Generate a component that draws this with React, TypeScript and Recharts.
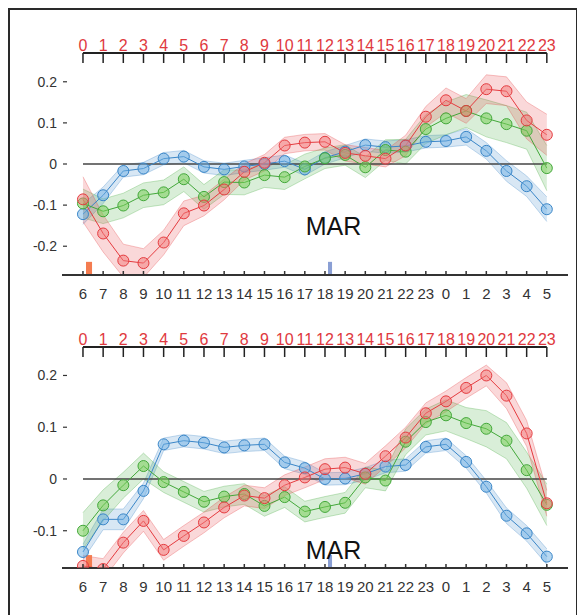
import React from "react";
import { ComposedChart, Line, Area, XAxis, YAxis, ReferenceLine, ReferenceArea, ReferenceDot } from "recharts";

const FONT = '"Liberation Sans", Arial, sans-serif';

const hoursTop = ["0", "1", "2", "3", "4", "5", "6", "7", "8", "9", "10", "11", "12", "13", "14", "15", "16", "17", "18", "19", "20", "21", "22", "23"];
const hoursBottom = ["6", "7", "8", "9", "10", "11", "12", "13", "14", "15", "16", "17", "18", "19", "20", "21", "22", "23", "0", "1", "2", "3", "4", "5"];

const topRed = [-0.086, -0.169, -0.235, -0.241, -0.191, -0.12, -0.101, -0.062, -0.019, 0.003, 0.045, 0.052, 0.054, 0.027, 0.02, 0.013, 0.045, 0.115, 0.155, 0.129, 0.182, 0.177, 0.106, 0.071];
const topGreen = [-0.096, -0.115, -0.101, -0.076, -0.069, -0.037, -0.08, -0.044, -0.045, -0.027, -0.032, -0.006, 0.014, 0.022, -0.008, 0.034, 0.03, 0.085, 0.111, 0.129, 0.111, 0.097, 0.081, -0.01];
const topBlue = [-0.122, -0.076, -0.017, -0.011, 0.013, 0.018, -0.007, -0.013, -0.006, 0.0, 0.007, -0.013, 0.015, 0.03, 0.046, 0.041, 0.044, 0.054, 0.056, 0.066, 0.032, -0.017, -0.054, -0.11];
const topRedErr = [0.055, 0.045, 0.04, 0.035, 0.03, 0.03, 0.025, 0.025, 0.02, 0.02, 0.02, 0.02, 0.02, 0.02, 0.02, 0.02, 0.025, 0.025, 0.03, 0.03, 0.035, 0.035, 0.045, 0.05];
const topGreenErr = [0.035, 0.03, 0.03, 0.03, 0.03, 0.03, 0.03, 0.03, 0.03, 0.03, 0.03, 0.03, 0.025, 0.025, 0.025, 0.025, 0.03, 0.035, 0.04, 0.04, 0.045, 0.045, 0.045, 0.055];
const topBlueErr = [0.025, 0.02, 0.015, 0.015, 0.015, 0.015, 0.015, 0.015, 0.015, 0.015, 0.015, 0.015, 0.015, 0.015, 0.015, 0.015, 0.015, 0.015, 0.015, 0.02, 0.02, 0.025, 0.025, 0.03];

const bottomRed = [-0.168, -0.174, -0.123, -0.081, -0.137, -0.11, -0.084, -0.055, -0.032, -0.037, -0.012, 0.003, 0.019, 0.022, 0.01, 0.044, 0.08, 0.127, 0.15, 0.176, 0.2, 0.161, 0.088, -0.047];
const bottomGreen = [-0.1, -0.051, -0.012, 0.025, -0.006, -0.025, -0.044, -0.034, -0.029, -0.052, -0.035, -0.063, -0.054, -0.046, 0.003, -0.003, 0.072, 0.11, 0.123, 0.108, 0.097, 0.074, 0.017, -0.05];
const bottomBlue = [-0.141, -0.078, -0.078, -0.023, 0.067, 0.074, 0.07, 0.061, 0.065, 0.067, 0.032, 0.021, 0.0, 0.001, 0.01, 0.024, 0.027, 0.062, 0.067, 0.033, -0.015, -0.071, -0.105, -0.15];
const bottomRedErr = [0.02, 0.02, 0.02, 0.02, 0.02, 0.02, 0.02, 0.02, 0.02, 0.02, 0.02, 0.02, 0.02, 0.02, 0.02, 0.02, 0.02, 0.02, 0.02, 0.02, 0.02, 0.025, 0.025, 0.025];
const bottomGreenErr = [0.035, 0.03, 0.025, 0.025, 0.02, 0.02, 0.02, 0.02, 0.02, 0.02, 0.02, 0.02, 0.02, 0.02, 0.02, 0.02, 0.025, 0.025, 0.03, 0.03, 0.035, 0.035, 0.035, 0.04];
const bottomBlueErr = [0.015, 0.02, 0.02, 0.015, 0.012, 0.012, 0.012, 0.012, 0.012, 0.012, 0.012, 0.012, 0.012, 0.012, 0.012, 0.012, 0.012, 0.012, 0.012, 0.012, 0.012, 0.015, 0.015, 0.015];

const tickIdx = hoursTop.map((_, i) => i);
const X_DOMAIN: [number, number] = [-1.04, 24.05];

const RED = "#e53b3f";
const GREEN = "#43a83a";
const BLUE = "#3a86c8";

function TopTick(props: any) {
  const { x, y, payload } = props;
  return (
    <g>
      <line x1={x} x2={x} y1={y} y2={y + 10} stroke="#222" strokeWidth={1.5} />
      <text x={x} y={y - 2} textAnchor="middle" fontSize={16} fill="#e0393e" fontFamily={FONT}>
        {hoursTop[payload.value]}
      </text>
    </g>
  );
}

function BottomTick(props: any) {
  const { x, y, payload } = props;
  return (
    <g>
      <line x1={x} x2={x} y1={y - 4} y2={y} stroke="#333" strokeWidth={1.5} />
      <text x={x} y={y + 24} textAnchor="middle" fontSize={15} fill="#333" fontFamily={FONT}>
        {hoursBottom[payload.value]}
      </text>
    </g>
  );
}

function YTick(props: any) {
  const { x, y, payload } = props;
  return (
    <g>
      <text x={x - 5} y={y + 5} textAnchor="end" fontSize={14} fill="#333" fontFamily={FONT}>
        {String(payload.value)}
      </text>
      <line x1={x + 1} x2={x + 5} y1={y} y2={y} stroke="#333" strokeWidth={1.2} />
    </g>
  );
}

type PanelProps = {
  red: number[];
  green: number[];
  blue: number[];
  redErr: number[];
  greenErr: number[];
  blueErr: number[];
  yDomain: [number, number];
  yTicks: number[];
  marY: number;
  barH: number;
  bottomMargin: number;
};

function Panel(p: PanelProps) {
  const data = hoursBottom.map((_, i) => ({
    i,
    red: p.red[i],
    green: p.green[i],
    blue: p.blue[i],
    redBand: [p.red[i] - p.redErr[i], p.red[i] + p.redErr[i]],
    greenBand: [p.green[i] - p.greenErr[i], p.green[i] + p.greenErr[i]],
    blueBand: [p.blue[i] - p.blueErr[i], p.blue[i] + p.blueErr[i]],
  }));
  const [y0, y1] = p.yDomain;

  return (
    <ComposedChart width={566} height={290} data={data} margin={{ top: 5, right: 8, bottom: p.bottomMargin, left: 12 }}>
      <XAxis
        xAxisId="top"
        orientation="top"
        type="number"
        dataKey="i"
        domain={X_DOMAIN}
        allowDataOverflow
        ticks={tickIdx}
        interval={0}
        height={20}
        axisLine={false}
        tickLine={false}
        tickSize={0}
        tickMargin={0}
        tick={(t: any) => <TopTick {...t} />}
      />
      <XAxis
        type="number"
        dataKey="i"
        domain={X_DOMAIN}
        allowDataOverflow
        ticks={tickIdx}
        interval={0}
        height={30}
        axisLine={{ stroke: "#333", strokeWidth: 2 }}
        tickLine={false}
        tickSize={0}
        tickMargin={0}
        tick={(t: any) => <BottomTick {...t} />}
      />
      <YAxis
        type="number"
        domain={p.yDomain}
        allowDataOverflow
        ticks={p.yTicks}
        interval={0}
        width={40}
        axisLine={false}
        tickLine={false}
        tickSize={0}
        tickMargin={0}
        tick={(t: any) => <YTick {...t} />}
      />

      <Area dataKey="blueBand" type="linear" fill={BLUE} fillOpacity={0.2} stroke={BLUE} strokeOpacity={0.3} isAnimationActive={false} activeDot={false} />
      <Area dataKey="greenBand" type="linear" fill={GREEN} fillOpacity={0.2} stroke={GREEN} strokeOpacity={0.3} isAnimationActive={false} activeDot={false} />
      <Area dataKey="redBand" type="linear" fill={RED} fillOpacity={0.2} stroke={RED} strokeOpacity={0.3} isAnimationActive={false} activeDot={false} />

      <ReferenceLine segment={[{ x: 0, y: 0 }, { x: 23, y: 0 }]} stroke="#444" strokeWidth={1.5} ifOverflow="visible" />
      <ReferenceLine segment={[{ x: 0, y: y1 }, { x: 23, y: y1 }]} stroke="#222" strokeWidth={2} ifOverflow="visible" />

      <ReferenceArea x1={0.15} x2={0.45} y1={y0} y2={y0 + p.barH} fill="#f47c50" fillOpacity={1} stroke="none" ifOverflow="visible" />
      <ReferenceArea x1={12.15} x2={12.35} y1={y0} y2={y0 + p.barH} fill="#8a9fd4" fillOpacity={1} stroke="none" ifOverflow="visible" />

      <Line dataKey="blue" type="linear" stroke={BLUE} strokeWidth={1} dot={{ r: 5.5, fill: "rgba(110,175,228,0.5)", stroke: BLUE, strokeWidth: 1 }} activeDot={false} isAnimationActive={false} />
      <Line dataKey="green" type="linear" stroke={GREEN} strokeWidth={1} dot={{ r: 5.5, fill: "rgba(120,205,90,0.55)", stroke: GREEN, strokeWidth: 1 }} activeDot={false} isAnimationActive={false} />
      <Line dataKey="red" type="linear" stroke={RED} strokeWidth={1} dot={{ r: 5.5, fill: "rgba(242,120,120,0.5)", stroke: RED, strokeWidth: 1 }} activeDot={false} isAnimationActive={false} />

      <ReferenceDot
        x={12.42}
        y={p.marY}
        r={0}
        fill="none"
        stroke="none"
        ifOverflow="visible"
        label={{ value: "MAR", position: "center", fontSize: 25, fill: "#111", fontFamily: FONT }}
      />
    </ComposedChart>
  );
}

export default function App() {
  return (
    <div
      style={{
        position: "relative",
        width: 570,
        height: 640,
        border: "2px solid #2a2a2a",
        boxSizing: "border-box",
        background: "#fff",
      }}
    >
      <style>{"html,body{overflow:hidden}"}</style>
      <div style={{ position: "absolute", left: 0, top: 18 }}>
        <Panel
          red={topRed}
          green={topGreen}
          blue={topBlue}
          redErr={topRedErr}
          greenErr={topGreenErr}
          blueErr={topBlueErr}
          yDomain={[-0.27, 0.27]}
          yTicks={[-0.2, -0.1, 0, 0.1, 0.2]}
          marY={-0.151}
          barH={0.032}
          bottomMargin={13}
        />
      </div>
      <div style={{ position: "absolute", left: 0, top: 312 }}>
        <Panel
          red={bottomRed}
          green={bottomGreen}
          blue={bottomBlue}
          redErr={bottomRedErr}
          greenErr={bottomGreenErr}
          blueErr={bottomBlueErr}
          yDomain={[-0.172, 0.255]}
          yTicks={[-0.1, 0, 0.1, 0.2]}
          marY={-0.137}
          barH={0.025}
          bottomMargin={14}
        />
      </div>
    </div>
  );
}
